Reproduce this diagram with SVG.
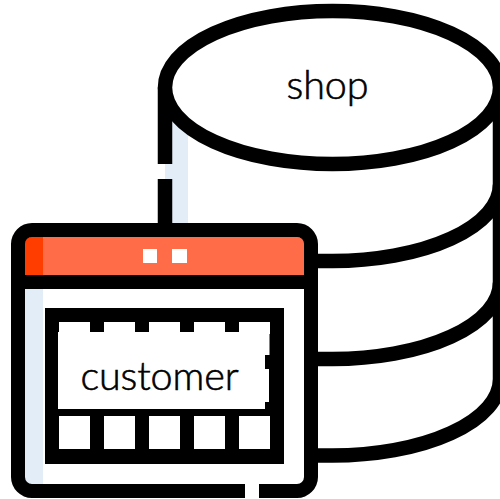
<svg xmlns="http://www.w3.org/2000/svg" width="500" height="499" viewBox="0 0 500 499">
<style>
.o{fill:none;stroke:#000;stroke-width:14.5}
.t{font-family:Lato,"Noto Sans",sans-serif;font-size:39.500px;font-weight:300;letter-spacing:-0.100px;fill:#000;stroke:#000;stroke-width:0.600px;text-anchor:middle}
.c{fill:#fff}
.b{fill:#e3edf7}
</style>
<rect width="500" height="499" fill="#fff"/>
<g id="shop">
<rect class="b" x="172" y="122" width="16" height="104"/>
<rect class="b" x="165" y="164" width="8" height="15"/>
<path class="o" d="M165 87.500V164M165 179V226"/>
<path class="o" d="M500 87.500V379"/>
<ellipse class="o" cx="332.500" cy="87.500" rx="167.500" ry="76.500" style="fill:#fff"/>
<path class="o" d="M500 184.500A167.500 76.500 0 0 1 332.500 261H310"/>
<path class="o" d="M500 282.500A167.500 76.500 0 0 1 332.500 359H310"/>
<path class="o" d="M500 379A167.500 76.500 0 0 1 332.500 455.500H310"/>
<text class="t" x="327.500" y="99">shop</text>
</g>
<g id="customer">
<rect x="18" y="230" width="293" height="261" rx="14" fill="#fff"/>
<path d="M25 282V244a7 7 0 0 1 7-7H297a7 7 0 0 1 7 7V282Z" fill="#ff6c47"/>
<path d="M25 275V244a7 7 0 0 1 7-7H43V275Z" fill="#ff3d00"/>
<path class="b" d="M25 289H43V484H32a7 7 0 0 1-7-7Z"/>
<rect x="143" y="249" width="14" height="14" fill="#fff"/>
<rect x="172" y="249" width="15" height="14" fill="#fff"/>
<path d="M245 498H32A21 21 0 0 1 11 477V244A21 21 0 0 1 32 223H297A21 21 0 0 1 318 244V477A21 21 0 0 1 297 498H259V484H297A7 7 0 0 0 304 477V289H25V477A7 7 0 0 0 32 484H245ZM25 275H304V244A7 7 0 0 0 297 237H32A7 7 0 0 0 25 244Z" fill="#000" fill-rule="evenodd"/>
<rect x="45" y="308" width="239" height="156" fill="#000"/>
<rect class="c" x="59" y="322" width="31" height="12"/>
<rect class="c" x="104" y="322" width="31" height="12"/>
<rect class="c" x="149" y="322" width="31" height="12"/>
<rect class="c" x="194" y="322" width="31" height="12"/>
<rect class="c" x="239" y="322" width="31" height="12"/>
<path class="c" d="M58 332H269.500V355H265V369H269V402H265V409H58Z"/>
<rect class="c" x="59" y="416" width="31" height="33"/>
<rect class="c" x="104" y="416" width="31" height="33"/>
<rect class="c" x="149" y="416" width="31" height="33"/>
<rect class="c" x="194" y="416" width="31" height="33"/>
<rect class="c" x="239" y="416" width="31" height="33"/>
<text class="t" x="159.500" y="390">customer</text>
</g>
</svg>
